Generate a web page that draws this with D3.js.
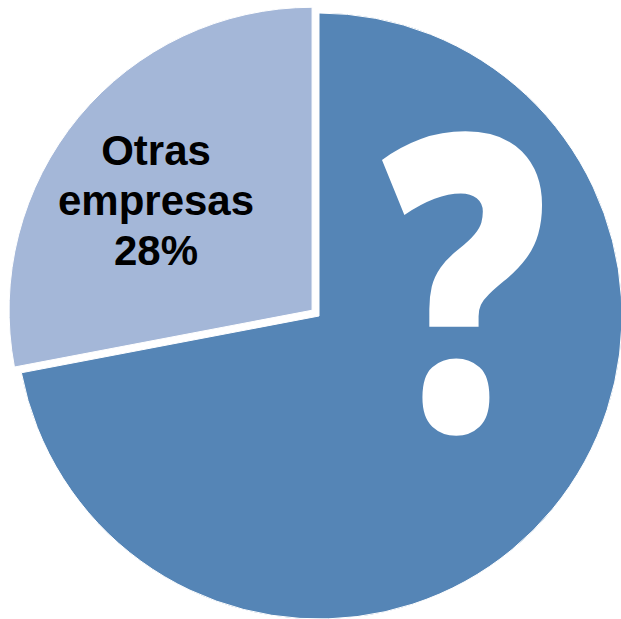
<!DOCTYPE html>
<html>
<head>
<meta charset="utf-8">
<script src="https://cdn.jsdelivr.net/npm/d3@7"></script>
<style>
  html, body { margin: 0; padding: 0; background: #ffffff; }
  svg { display: block; }
</style>
</head>
<body>
<svg id="chart" width="621" height="619"></svg>
<script>
// ---- data ----
const categories = ["Empresa desconocida", "Otras empresas"];
const values = [72, 28];
const sliceLabels = ["?", "Otras\nempresas\n28%"];
const colors = ["#5585B6", "#A4B7D8"];

// ---- layout ----
const W = 621, H = 619;
const cx = 319, cy = 316, R = 303;
const explode = [0, 9];

const svg = d3.select("#chart");
const g = svg.append("g").attr("transform", `translate(${cx},${cy})`);

const pie = d3.pie().sort(null).value(d => d)
  .startAngle(0).endAngle(2 * Math.PI);
const arcs = pie(values);
const arc = d3.arc().innerRadius(0).outerRadius(R);
const color = d3.scaleOrdinal().domain(categories).range(colors);

const slices = g.selectAll("g.slice")
  .data(arcs)
  .join("g")
  .attr("class", "slice")
  .attr("transform", (d, i) => {
    const a = (d.startAngle + d.endAngle) / 2;
    const off = explode[i];
    return `translate(${off * Math.sin(a)},${-off * Math.cos(a)})`;
  });

slices.append("path")
  .attr("d", arc)
  .attr("fill", (d, i) => color(categories[i]))
  .attr("stroke", "#ffffff")
  .attr("stroke-width", 1);

// Label for "Otras empresas"
const lbl = svg.append("text")
  .attr("text-anchor", "middle")
  .attr("font-family", "'Liberation Sans', Arial, sans-serif")
  .attr("font-weight", "bold")
  .attr("font-size", 42)
  .attr("fill", "#000000");
const lines = sliceLabels[1].split("\n");
lines.forEach((t, i) => {
  lbl.append("tspan")
    .attr("x", 156)
    .attr("y", 215 + (i - 1) * 50)
    .text(t);
});

// Big question mark, fitted to its ink box
const qFamily = "'Noto Sans'";
const qWeight = 900;
const ctx = document.createElement("canvas").getContext("2d");
ctx.font = `${qWeight} 100px ${qFamily}`;
const m = ctx.measureText(sliceLabels[0]);
const inkW = m.actualBoundingBoxLeft + m.actualBoundingBoxRight;
const inkH = m.actualBoundingBoxAscent + m.actualBoundingBoxDescent;
const box = { x0: 382, x1: 543, y0: 133, y1: 435 };
const sx = (box.x1 - box.x0) / inkW;
const sy = (box.y1 - box.y0) / inkH;
const tx = box.x0 + m.actualBoundingBoxLeft * sx;
const ty = box.y0 + m.actualBoundingBoxAscent * sy;
svg.append("text")
  .attr("transform", `translate(${tx},${ty}) scale(${sx},${sy})`)
  .attr("font-family", qFamily)
  .attr("font-weight", qWeight)
  .attr("font-size", 100)
  .attr("fill", "#ffffff")
  .text(sliceLabels[0]);
</script>
</body>
</html>
